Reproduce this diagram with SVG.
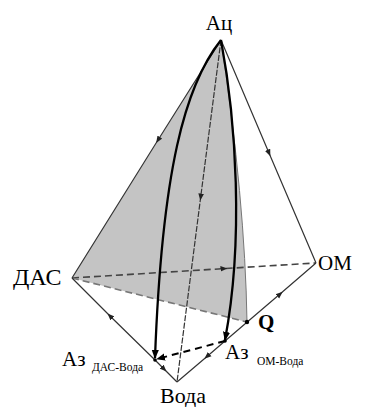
<svg xmlns="http://www.w3.org/2000/svg" width="365" height="407" viewBox="0 0 365 407">
<defs>
<marker id="ah" viewBox="0 0 10 10" refX="5" refY="5" markerWidth="7" markerHeight="7" markerUnits="userSpaceOnUse" orient="auto"><path d="M0,1 L10,5 L0,9 Z" fill="#222"/></marker>
<marker id="ahe" viewBox="0 0 10 10" refX="9" refY="5" markerWidth="9" markerHeight="9" markerUnits="userSpaceOnUse" orient="auto"><path d="M0,1 L10,5 L0,9 Z" fill="#000"/></marker>
</defs>
<style>
.edge{fill:none;stroke:#333;stroke-width:1.2}
.bold{fill:none;stroke:#000;stroke-width:2.3}
.dash{fill:none;stroke:#555;stroke-width:1.6;stroke-dasharray:7 4}
.lbl{font-family:"Liberation Serif","Times New Roman",serif;fill:#000}
</style>
<rect width="365" height="407" fill="#fff"/>
<g id="shade">
<path d="M221,40 L72,278 L247,322 Q245,200 221,40 Z" fill="#c4c4c4"/>
<path d="M221,40 Q245,200 247,322" fill="none" stroke="#777" stroke-width="1"/>
</g>
<g id="connectors">
<polyline class="dash" points="72,278 224,268.6 316,263" marker-mid="url(#ah)" style="stroke:#444"/>
<line class="dash" x1="72" y1="278" x2="247" y2="322" style="stroke:#777"/>
<polyline class="edge" points="221,40 158,140 72,278" marker-mid="url(#ah)"/>
<polyline class="edge" points="221,40 269,153 316,263" marker-mid="url(#ah)"/>
<polyline class="edge" points="221,40 200.7,197 177,382" marker-mid="url(#ah)" style="stroke-dasharray:6 1.5"/>
<polyline class="edge" points="155,360 110,316 72,278" marker-mid="url(#ah)"/>
<polyline class="edge" points="155,360 164,369 177,382" marker-mid="url(#ah)"/>
<polyline class="edge" points="225,341 280,294 316,263" marker-mid="url(#ah)"/>
<polyline class="edge" points="225,341 207,356.5 177,382" marker-mid="url(#ah)"/>
<path class="bold" d="M221,40 C185,85 162,170 155,358" marker-end="url(#ahe)"/>
<path class="bold" d="M221,40 C236,120 244,240 225,340" marker-end="url(#ahe)"/>
<line class="bold" x1="225" y1="341" x2="157" y2="359" style="stroke-width:2;stroke-dasharray:7 5" marker-end="url(#ahe)"/>
<circle cx="247" cy="322" r="2.2" fill="#000"/>
<circle cx="225" cy="341" r="1.8" fill="#000"/>
<circle cx="155" cy="360" r="1.8" fill="#000"/>
</g>
<g id="n-ac"><text class="lbl" x="219" y="30" font-size="21" text-anchor="middle">Ац</text></g>
<g id="n-das"><text class="lbl" x="13" y="285" font-size="24">ДАС</text></g>
<g id="n-om"><text class="lbl" x="318" y="270" font-size="21">ОМ</text></g>
<g id="n-voda"><text class="lbl" x="183" y="403" font-size="22" text-anchor="middle">Вода</text></g>
<g id="n-q"><text class="lbl" x="258" y="329" font-size="21" font-weight="bold">Q</text></g>
<g id="n-az1"><text class="lbl" x="62" y="366" font-size="21">Аз<tspan x="92" y="371" font-size="11.5">ДАС-Вода</tspan></text></g>
<g id="n-az2"><text class="lbl" x="225" y="359" font-size="21">Аз<tspan x="257" y="365" font-size="11.5">ОМ-Вода</tspan></text></g>
</svg>
